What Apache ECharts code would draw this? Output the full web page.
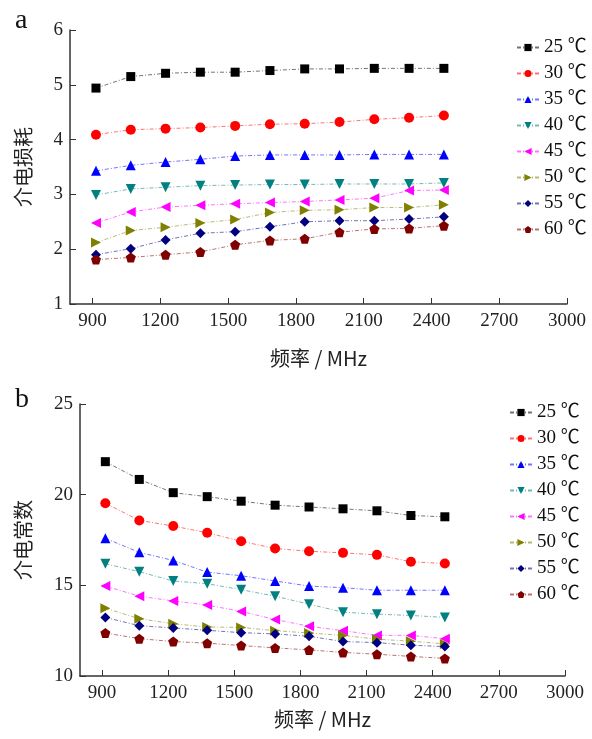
<!DOCTYPE html>
<html>
<head>
<meta charset="utf-8">
<script src="https://cdn.jsdelivr.net/npm/echarts@6/dist/echarts.min.js"></script>
<style>
html, body { margin: 0; padding: 0; background: #fff; }
#charts { width: 592px; height: 739px; }
</style>
</head>
<body>
<div id="charts"></div>
<script>
var freq = [915, 1069, 1223, 1377, 1531, 1685, 1839, 1993, 2147, 2301, 2455];
var temps = ['25 ℃', '30 ℃', '35 ℃', '40 ℃', '45 ℃', '50 ℃', '55 ℃', '60 ℃'];
var xTicks = [900, 1200, 1500, 1800, 2100, 2400, 2700, 3000];

// 介电损耗
var loss25 = [4.94, 5.15, 5.21, 5.23, 5.23, 5.26, 5.29, 5.29, 5.30, 5.30, 5.30];
var loss30 = [4.09, 4.18, 4.20, 4.22, 4.25, 4.28, 4.29, 4.32, 4.37, 4.40, 4.44];
var loss35 = [3.43, 3.53, 3.59, 3.64, 3.70, 3.72, 3.72, 3.72, 3.73, 3.73, 3.73];
var loss40 = [2.99, 3.10, 3.13, 3.16, 3.17, 3.18, 3.18, 3.19, 3.19, 3.19, 3.21];
var loss45 = [2.48, 2.68, 2.77, 2.80, 2.83, 2.85, 2.87, 2.90, 2.93, 3.07, 3.08];
var loss50 = [2.12, 2.34, 2.40, 2.48, 2.54, 2.67, 2.71, 2.72, 2.76, 2.76, 2.81];
var loss55 = [1.90, 2.01, 2.17, 2.29, 2.32, 2.41, 2.50, 2.52, 2.52, 2.55, 2.59];
var loss60 = [1.81, 1.85, 1.90, 1.95, 2.08, 2.16, 2.19, 2.31, 2.37, 2.38, 2.43];

// 介电常数
var perm25 = [21.82, 20.84, 20.11, 19.89, 19.64, 19.42, 19.32, 19.22, 19.11, 18.85, 18.78];
var perm30 = [19.53, 18.58, 18.27, 17.90, 17.43, 17.03, 16.88, 16.79, 16.68, 16.30, 16.20];
var perm35 = [17.59, 16.82, 16.37, 15.73, 15.53, 15.24, 14.96, 14.87, 14.73, 14.73, 14.73];
var perm40 = [16.19, 15.75, 15.24, 15.09, 14.76, 14.40, 13.96, 13.52, 13.41, 13.34, 13.23];
var perm45 = [14.96, 14.40, 14.14, 13.91, 13.56, 13.12, 12.74, 12.50, 12.24, 12.24, 12.06];
var perm50 = [13.74, 13.16, 12.88, 12.70, 12.68, 12.50, 12.37, 12.24, 12.03, 11.92, 11.77];
var perm55 = [13.23, 12.77, 12.65, 12.52, 12.39, 12.32, 12.19, 11.90, 11.84, 11.70, 11.62];
var perm60 = [12.37, 12.06, 11.90, 11.81, 11.68, 11.55, 11.44, 11.30, 11.20, 11.08, 10.97];

var lossData = [loss25, loss30, loss35, loss40, loss45, loss50, loss55, loss60];
var permData = [perm25, perm30, perm35, perm40, perm45, perm50, perm55, perm60];

var colors = ['#000000', '#ff0000', '#0000ff', '#008080', '#ff00ff', '#808000', '#000080', '#800000'];
var symbols = ['rect', 'circle', 'triangle', 'triangle', 'triangle', 'triangle', 'diamond',
    'path://M50,0 L100,38 L81,100 L19,100 L0,38 Z'];
var rotates = [0, 0, 0, 180, 90, -90, 0, 0];
var sizes = [9, 10, 10, 10, 10, 10, 10, 10];

var serif = 'Liberation Serif, Noto Sans CJK SC';
var cjk = 'Noto Sans CJK SC';

(function () {
    var myChart = echarts.init(document.getElementById('charts'));

    function pairs(ys) {
        var out = [];
        for (var i = 0; i < freq.length; i++) {
            out.push([freq[i], ys[i]]);
        }
        return out;
    }

    function xAxis(grid, gap) {
        return {
            type: 'value',
            gridIndex: grid,
            min: 800,
            max: 3000,
            name: '频率 / MHz',
            nameLocation: 'middle',
            nameGap: gap,
            nameTextStyle: { fontFamily: cjk, fontSize: 20, color: '#222' },
            axisLine: { lineStyle: { color: '#333', width: 1.5 } },
            axisTick: { inside: true, length: 6, customValues: xTicks, lineStyle: { color: '#333' } },
            axisLabel: {
                customValues: xTicks,
                formatter: function (v) { return String(v); },
                fontFamily: serif, fontSize: 19, color: '#222', margin: 8
            },
            splitLine: { show: false }
        };
    }

    function yAxis(grid, min, max, step, name, gap) {
        return {
            type: 'value',
            gridIndex: grid,
            min: min,
            max: max,
            interval: step,
            name: name,
            nameLocation: 'middle',
            nameGap: gap,
            nameTextStyle: { fontFamily: cjk, fontSize: 20, color: '#222' },
            axisLine: { show: true, lineStyle: { color: '#333', width: 1.5 } },
            axisTick: { show: true, inside: true, length: 6, lineStyle: { color: '#333' } },
            axisLabel: { fontFamily: serif, fontSize: 19, color: '#222', margin: 7 },
            splitLine: { show: false }
        };
    }

    function legend(left, top) {
        return {
            data: temps,
            orient: 'vertical',
            left: left,
            top: top,
            itemWidth: 22,
            itemHeight: 9,
            itemGap: 7,
            textStyle: { fontFamily: serif, fontSize: 19, color: '#111', lineHeight: 19 }
        };
    }

    var series = [];
    function addSeries(data, grid) {
        for (var i = 0; i < temps.length; i++) {
            series.push({
                name: temps[i],
                type: 'line',
                xAxisIndex: grid,
                yAxisIndex: grid,
                data: pairs(data[i]),
                symbol: symbols[i],
                symbolRotate: rotates[i],
                symbolSize: sizes[i],
                showAllSymbol: true,
                color: colors[i],
                itemStyle: { color: colors[i] },
                lineStyle: { color: colors[i], width: 1, opacity: 0.55, type: [4, 2, 1, 2] },
                animation: false
            });
        }
    }
    addSeries(lossData, 0);
    addSeries(permData, 1);

    var option = {
        backgroundColor: '#fff',
        title: [
            { text: 'a', left: 10, top: 2, textStyle: { fontFamily: serif, fontSize: 28, fontWeight: 'normal', color: '#111' } },
            { text: 'b', left: 10, top: 381, textStyle: { fontFamily: serif, fontSize: 28, fontWeight: 'normal', color: '#111' } }
        ],
        legend: [legend(511, 33), legend(504, 398)],
        grid: [
            { left: 70, right: 25, top: 30, height: 274 },
            { left: 80, right: 27, top: 404, height: 272 }
        ],
        xAxis: [xAxis(0, 44), xAxis(1, 33)],
        yAxis: [
            yAxis(0, 1, 6, 1, '介电损耗', 37),
            yAxis(1, 10, 25, 5, '介电常数', 47)
        ],
        series: series
    };

    myChart.setOption(option);
})();
</script>
</body>
</html>
